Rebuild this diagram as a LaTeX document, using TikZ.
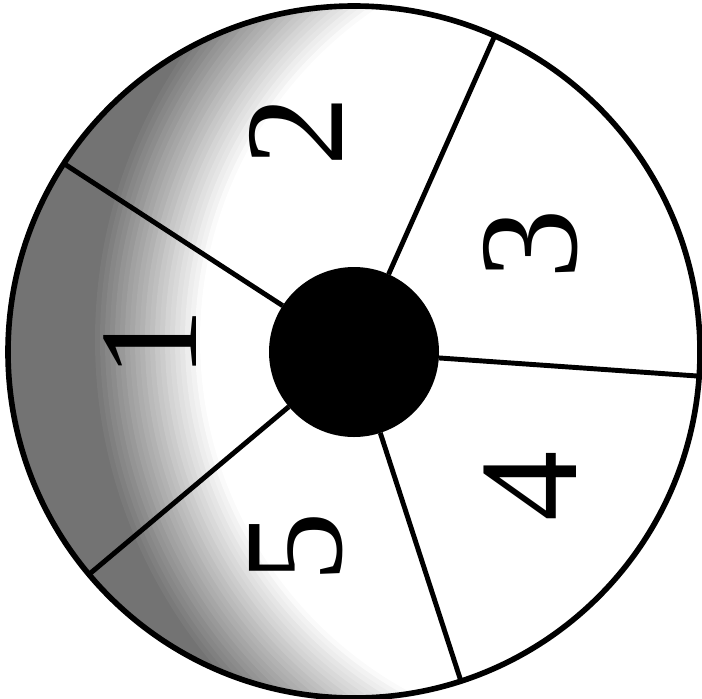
\documentclass[tikz,border=0pt]{standalone}
\usepackage{fontspec}
\setmainfont{Liberation Serif}
\newfontfamily\numfont{Liberation Serif}
\usetikzlibrary{positioning}
\tikzset{
  %% Outer ring of the wheel
  wheel/.style={
    circle, draw=black, line width=1.6pt,
    inner sep=0pt, outer sep=0pt, minimum size=6.92cm
  },
  %% Solid centre disk
  hub/.style={
    circle, fill=black,
    inner sep=0pt, outer sep=0pt, minimum size=1.7cm
  },
  %% Dividing line between sectors
  spoke/.style={draw=black, line width=1.4pt},
  %% Sector number, turned on its side
  digit/.style={
    rotate=90, inner sep=0pt,
    font=\numfont\fontsize{40}{40}\selectfont
  },
}

\begin{document}
\begin{tikzpicture}

  \useasboundingbox (0,0) rectangle (7.02,6.98);

  \coordinate (c) at (3.54,3.46);
  \coordinate (s) at (6.00,3.58);

  %% Dark rim on the left side
  \begin{scope}
    \clip (c) circle (3.46);
    \foreach \i in {0,...,40}{
      \pgfmathsetmacro\rr{6.0-0.05*\i}
      \pgfmathtruncatemacro\gg{max(0,min(55,55*(40-\i)/22))}
      \fill[black!\gg] (s) circle (\rr);
    }
  \end{scope}

  %% Wheel and hub
  \node[wheel] (w) at (c) {};
  \node[hub]   (h) at (c) {};

  %% Sector dividers
  \foreach \a in {147, 66.6, -4, -72.4, 220.8}
    \draw[spoke] (h.\a) -- (w.\a);

  %% Sector numbers
  \node[digit] (d1) at (1.50,3.55) {1};
  \node[digit] (d2) at (2.96,5.67) {2};
  \node[digit] (d3) at (5.31,4.54) {3};
  \node[digit] (d4) at (5.30,2.12) {4};
  \node[digit] (d5) at (2.96,1.51) {5};

\end{tikzpicture}
\end{document}
